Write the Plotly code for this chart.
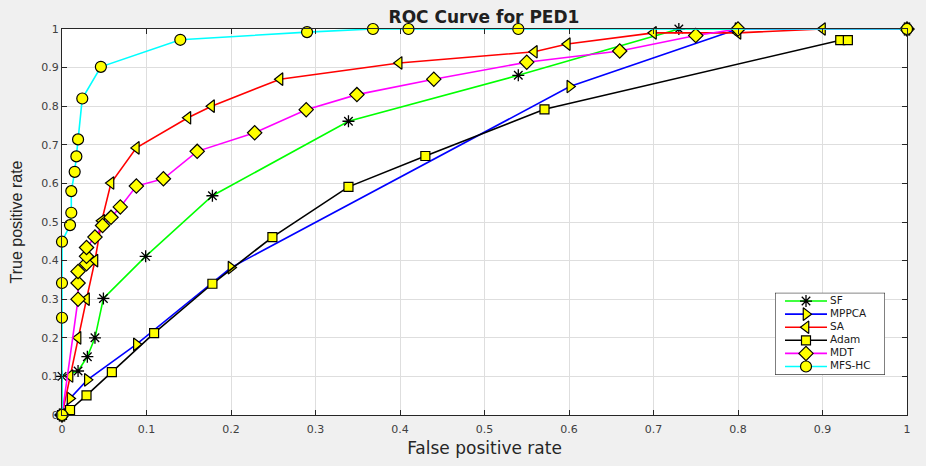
import plotly.graph_objects as go

# ---- data ----
sf_x = [0, 0, 0.019, 0.03, 0.039, 0.049, 0.099, 0.178, 0.339, 0.54, 0.73, 1.0]
sf_y = [0, 0.10, 0.114, 0.151, 0.20, 0.302, 0.411, 0.568, 0.761, 0.88, 1.0, 1.0]

mppca_x = [0, 0.0095, 0.03, 0.088, 0.20, 0.601, 0.80, 1.0]
mppca_y = [0, 0.043, 0.091, 0.183, 0.382, 0.851, 1.0, 1.0]

sa_x = [0, 0.0095, 0.019, 0.029, 0.039, 0.047, 0.058, 0.088, 0.149, 0.177, 0.258, 0.399, 0.559, 0.598, 0.70, 0.80, 0.90, 1.0]
sa_y = [0, 0.101, 0.20, 0.30, 0.40, 0.503, 0.601, 0.692, 0.77, 0.80, 0.87, 0.912, 0.941, 0.961, 0.99, 0.99, 1.0, 1.0]

adam_x = [0, 0.0095, 0.029, 0.059, 0.109, 0.178, 0.249, 0.339, 0.43, 0.571, 0.921, 0.93]
adam_y = [0, 0.013, 0.051, 0.111, 0.212, 0.34, 0.461, 0.591, 0.671, 0.792, 0.971, 0.971]

mdt_x = [0, 0.019, 0.019, 0.019, 0.029, 0.029, 0.029, 0.039, 0.048, 0.058, 0.069, 0.088, 0.12, 0.16, 0.228, 0.289, 0.349, 0.44, 0.55, 0.66, 0.75, 0.80, 1.0]
mdt_y = [0, 0.30, 0.342, 0.372, 0.392, 0.411, 0.434, 0.461, 0.491, 0.512, 0.539, 0.593, 0.612, 0.683, 0.731, 0.791, 0.83, 0.87, 0.914, 0.943, 0.983, 1.0, 1.0]

mfs_x = [0, 0, 0, 0, 0.0095, 0.011, 0.011, 0.015, 0.017, 0.019, 0.024, 0.046, 0.14, 0.29, 0.368, 0.41, 0.54, 1.0]
mfs_y = [0, 0.252, 0.342, 0.449, 0.492, 0.524, 0.58, 0.63, 0.67, 0.714, 0.82, 0.902, 0.972, 0.992, 1.0, 1.0, 1.0, 1.0]

series_names = ["SF", "MPPCA", "SA", "Adam", "MDT", "MFS-HC"]
series_colors = ["#00ff00", "#0000ff", "#ff0000", "#000000", "#ff00ff", "#00ffff"]
series_symbols = ["asterisk-open", "triangle-right", "triangle-left", "square", "diamond", "circle"]
series_sizes = [10, 11, 11, 9, 11, 11]

ticks = [0, 0.1, 0.2, 0.3, 0.4, 0.5, 0.6, 0.7, 0.8, 0.9, 1]
tick_text = ["0", "0.1", "0.2", "0.3", "0.4", "0.5", "0.6", "0.7", "0.8", "0.9", "1"]

YEL = "#ffff00"
FONT = "DejaVu Sans, Verdana, sans-serif"

xs_all = [sf_x, mppca_x, sa_x, adam_x, mdt_x, mfs_x]
ys_all = [sf_y, mppca_y, sa_y, adam_y, mdt_y, mfs_y]


def marker_for(i, size):
    if series_symbols[i] == "asterisk-open":
        return dict(symbol="asterisk-open", size=size, color="black",
                    line=dict(color="black", width=1.3))
    return dict(symbol=series_symbols[i], size=size, color=YEL,
                line=dict(color="black", width=1.2))


fig = go.Figure()

for i, name in enumerate(series_names):
    fig.add_trace(go.Scatter(x=xs_all[i], y=ys_all[i], mode="lines+markers", name=name,
                             line=dict(color=series_colors[i], width=1.6),
                             marker=marker_for(i, series_sizes[i]),
                             cliponaxis=False, showlegend=False))

# ---- custom legend in an inset axis (pixel-like units) ----
ROW = 13.5
LW = 110
LH = 8.5 * 2 + ROW * (len(series_names) - 1)
L_TOP = 301
L_LEFT = 775
fig.add_trace(go.Scatter(x=[0, LW, LW, 0, 0], y=[0, 0, LH, LH, 0], mode="lines",
                         fill="toself", fillcolor="white",
                         line=dict(color="black", width=1),
                         xaxis="x2", yaxis="y2", showlegend=False, hoverinfo="skip",
                         cliponaxis=False))
row_y = [8.5 + ROW * i for i in range(len(series_names))]
for i, name in enumerate(series_names):
    fig.add_trace(go.Scatter(x=[10, 52], y=[row_y[i], row_y[i]], mode="lines",
                             line=dict(color=series_colors[i], width=1.6),
                             xaxis="x2", yaxis="y2", showlegend=False, hoverinfo="skip"))
    fig.add_trace(go.Scatter(x=[31], y=[row_y[i]], mode="markers",
                             marker=marker_for(i, series_sizes[i]),
                             xaxis="x2", yaxis="y2", showlegend=False, hoverinfo="skip"))
fig.add_trace(go.Scatter(x=[55] * len(series_names), y=row_y, mode="text",
                         text=series_names, textposition="middle right",
                         textfont=dict(family=FONT, size=10.5, color="#1a1a1a"),
                         xaxis="x2", yaxis="y2", showlegend=False, hoverinfo="skip",
                         cliponaxis=False))

axis_common = dict(
    range=[0, 1], tickmode="array", tickvals=ticks, ticktext=tick_text,
    showgrid=True, gridcolor="#dedede", gridwidth=1,
    showline=True, linecolor="#262626", linewidth=1, mirror="ticks",
    ticks="inside", ticklen=5, tickcolor="#262626",
    tickfont=dict(family=FONT, size=11, color="#404040"),
    zeroline=False,
)

fig.update_layout(
    width=926, height=466,
    paper_bgcolor="#f0f0f0", plot_bgcolor="white",
    margin=dict(l=62, r=19, t=29, b=39),
    title=dict(text="<b>ROC Curve for PED1</b>", x=484 / 926, xanchor="center",
               y=1 - 17 / 466, yanchor="middle",
               font=dict(family=FONT, size=17, color="#202020")),
    xaxis=dict(axis_common, ticklabelstandoff=4,
               title=dict(text="False positive rate", standoff=6,
                          font=dict(family=FONT, size=17, color="#262626"))),
    yaxis=dict(axis_common,
               title=dict(text="True positive rate", standoff=14,
                          font=dict(family="Liberation Sans, Arial", size=16, color="#262626"))),
    xaxis2=dict(domain=[(L_LEFT - 62) / 845, (L_LEFT + LW - 62) / 845], range=[0, LW],
                visible=False, anchor="y2", fixedrange=True),
    yaxis2=dict(domain=[(427 - L_TOP - LH) / 398, (427 - L_TOP) / 398], range=[LH, 0],
                visible=False, anchor="x2", fixedrange=True),
    showlegend=False,
)

fig.write_html("out.html")
